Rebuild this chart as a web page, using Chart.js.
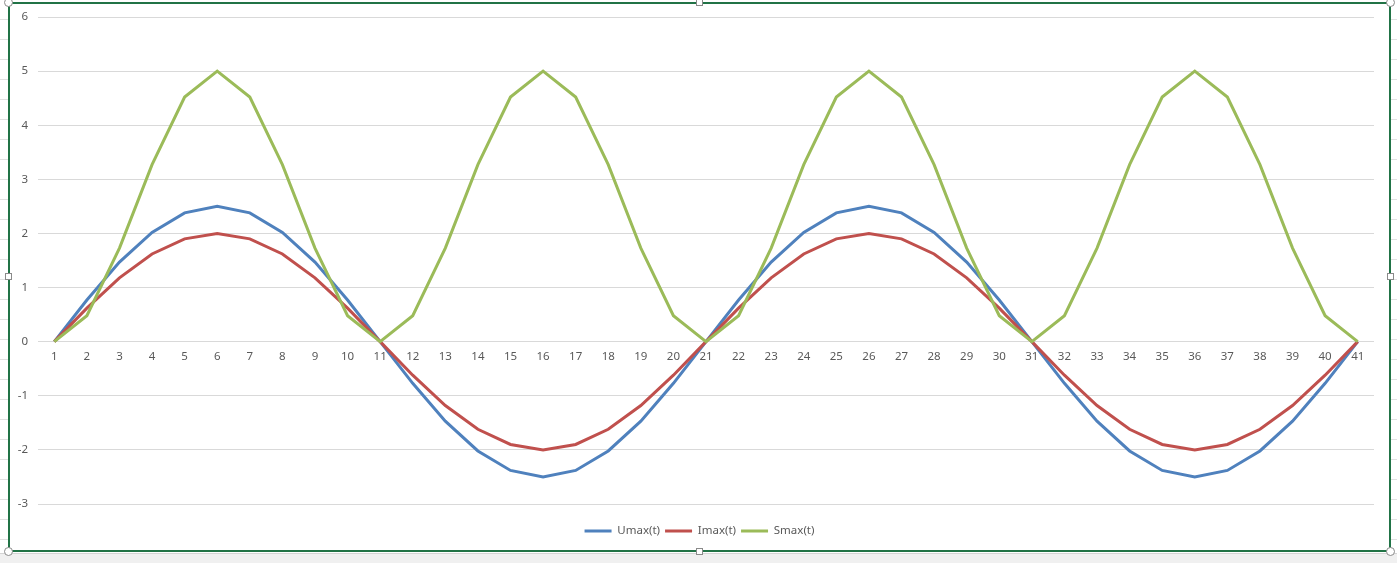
<!DOCTYPE html>
<html>
<head>
<meta charset="utf-8">
<script src="https://cdn.jsdelivr.net/npm/chart.js@4/dist/chart.umd.min.js"></script>
<style>
  html, body { margin: 0; padding: 0; }
  body {
    width: 1397px; height: 563px; overflow: hidden; position: relative;
    background: #ffffff repeating-linear-gradient(to bottom, transparent 0, transparent 19px, #e1e1e1 19px, #e1e1e1 20px);
  }
  #bande { position: absolute; left: 0; top: 553px; width: 1397px; height: 10px; background: #f0f0f0; border-top: 1px solid #d4d4d4; }
  #cadre {
    position: absolute; left: 8px; top: 2px; width: 1383px; height: 550px;
    box-sizing: border-box; border: 2px solid #217346; background: #ffffff;
  }
  #zone { position: absolute; left: 0; top: 0; width: 1379px; height: 546px; }
  .poignee { position: absolute; width: 7px; height: 7px; background: #fff; border: 1px solid #8a8a8a; box-sizing: border-box; }
  .rond { border-radius: 50%; width: 9px; height: 9px; }
</style>
</head>
<body>
<div id="bande"></div>
<div id="cadre">
  <div id="zone"><canvas id="chart-puissance"></canvas></div>
</div>
<div class="poignee rond" style="left:4px;top:-2px"></div>
<div class="poignee rond" style="left:1386px;top:-2px"></div>
<div class="poignee rond" style="left:4px;top:547px"></div>
<div class="poignee rond" style="left:1386px;top:547px"></div>
<div class="poignee" style="left:696px;top:-1px"></div>
<div class="poignee" style="left:696px;top:548px"></div>
<div class="poignee" style="left:5px;top:273px"></div>
<div class="poignee" style="left:1387px;top:273px"></div>
<script>
const ctxPuissance = document.getElementById("chart-puissance");

const corTexto = "#595959";
const corGrade = "#d9d9d9";
const fonte = { family: "'Noto Sans', 'DejaVu Sans', sans-serif", size: 11.5 };

const instantes = [
  "1", "2", "3", "4", "5", "6", "7", "8", "9", "10",
  "11", "12", "13", "14", "15", "16", "17", "18", "19", "20",
  "21", "22", "23", "24", "25", "26", "27", "28", "29", "30",
  "31", "32", "33", "34", "35", "36", "37", "38", "39", "40", "41"
];

const umax = [
  0, 0.77, 1.47, 2.02, 2.38, 2.5, 2.38, 2.02, 1.47, 0.77,
  0, -0.77, -1.47, -2.02, -2.38, -2.5, -2.38, -2.02, -1.47, -0.77,
  0, 0.77, 1.47, 2.02, 2.38, 2.5, 2.38, 2.02, 1.47, 0.77,
  0, -0.77, -1.47, -2.02, -2.38, -2.5, -2.38, -2.02, -1.47, -0.77, 0
];

const imax = [
  0, 0.62, 1.18, 1.62, 1.9, 2, 1.9, 1.62, 1.18, 0.62,
  0, -0.62, -1.18, -1.62, -1.9, -2, -1.9, -1.62, -1.18, -0.62,
  0, 0.62, 1.18, 1.62, 1.9, 2, 1.9, 1.62, 1.18, 0.62,
  0, -0.62, -1.18, -1.62, -1.9, -2, -1.9, -1.62, -1.18, -0.62, 0
];

const smax = [
  0, 0.48, 1.73, 3.27, 4.52, 5, 4.52, 3.27, 1.73, 0.48,
  0, 0.48, 1.73, 3.27, 4.52, 5, 4.52, 3.27, 1.73, 0.48,
  0, 0.48, 1.73, 3.27, 4.52, 5, 4.52, 3.27, 1.73, 0.48,
  0, 0.48, 1.73, 3.27, 4.52, 5, 4.52, 3.27, 1.73, 0.48, 0
];

const yTicks = [-3, -2, -1, 0, 1, 2, 3, 4, 5, 6];

function criarSerie(nome, valores, cor, ordem) {
  return {
    label: nome,
    data: valores,
    borderColor: cor,
    backgroundColor: cor,
    borderWidth: 3,
    pointRadius: 0,
    tension: 0,
    fill: false,
    order: ordem
  };
}

const chartPuissance = new Chart(ctxPuissance, {
  type: "line",
  data: {
    labels: instantes,
    datasets: [
      criarSerie("Umax(t)", umax, "#4f81bd", 3),
      criarSerie("Imax(t)", imax, "#c0504d", 2),
      criarSerie("Smax(t)", smax, "#9bbb59", 1)
    ]
  },
  options: {
    responsive: true,
    maintainAspectRatio: false,
    animation: false,
    layout: { padding: { top: 13, right: 0, left: 0, bottom: 3.25 } },
    plugins: {
      tooltip: { enabled: false },
      legend: {
        position: "bottom",
        // titre vide : sert seulement à descendre la légende
        title: { display: true, text: "", font: { size: 10, lineHeight: 1.2 }, padding: { top: 4.25, bottom: 0 } },
        labels: {
          usePointStyle: true,
          pointStyle: "line",
          pointStyleWidth: 27,
          padding: 5,
          color: corTexto,
          font: fonte,
          sort: (a, b) => a.datasetIndex - b.datasetIndex
        }
      }
    },
    scales: {
      x: {
        position: { y: 0 },
        offset: true,
        grid: { display: false, drawTicks: false },
        border: { display: false },
        ticks: { color: corTexto, font: fonte, padding: 8, maxRotation: 0, autoSkip: false },
        afterFit: (escala) => { escala.paddingLeft = 0; escala.paddingRight = 15; }
      },
      y: {
        min: yTicks[0],
        max: yTicks[yTicks.length - 1],
        afterBuildTicks: (escala) => { escala.ticks = yTicks.map(v => ({ value: v })); },
        grid: { color: corGrade, lineWidth: 1, drawTicks: false },
        border: { display: false },
        ticks: { color: corTexto, font: fonte, padding: 10 },
        afterFit: (escala) => { escala.width = 28; escala.paddingTop = 0; escala.paddingBottom = 0; }
      }
    }
  }
});
</script>
</body>
</html>
